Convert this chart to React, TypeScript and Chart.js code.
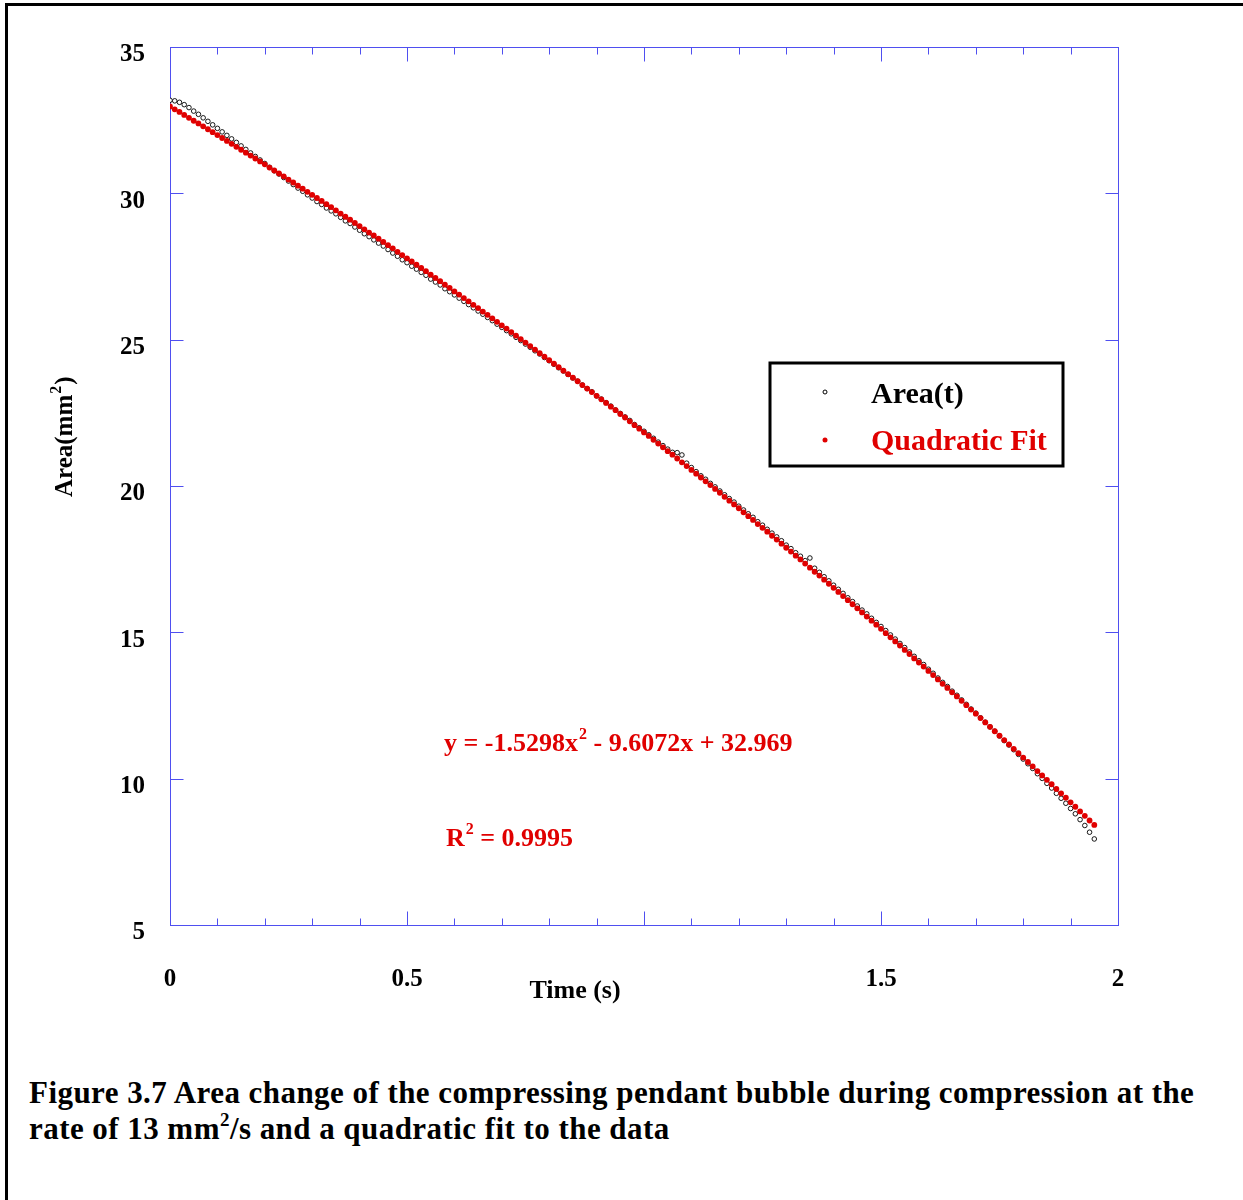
import React, { useEffect, useRef } from "react";
import { Chart, registerables } from "chart.js";

Chart.register(...registerables);

const times = [
  0, 0.01, 0.02, 0.03, 0.04, 0.05, 0.06, 0.07, 0.08, 0.09,
  0.1, 0.11, 0.12, 0.13, 0.14, 0.15, 0.16, 0.17, 0.18, 0.19,
  0.2, 0.21, 0.22, 0.23, 0.24, 0.25, 0.26, 0.27, 0.28, 0.29,
  0.3, 0.31, 0.32, 0.33, 0.34, 0.35, 0.36, 0.37, 0.38, 0.39,
  0.4, 0.41, 0.42, 0.43, 0.44, 0.45, 0.46, 0.47, 0.48, 0.49,
  0.5, 0.51, 0.52, 0.53, 0.54, 0.55, 0.56, 0.57, 0.58, 0.59,
  0.6, 0.61, 0.62, 0.63, 0.64, 0.65, 0.66, 0.67, 0.68, 0.69,
  0.7, 0.71, 0.72, 0.73, 0.74, 0.75, 0.76, 0.77, 0.78, 0.79,
  0.8, 0.81, 0.82, 0.83, 0.84, 0.85, 0.86, 0.87, 0.88, 0.89,
  0.9, 0.91, 0.92, 0.93, 0.94, 0.95, 0.96, 0.97, 0.98, 0.99,
  1.0, 1.01, 1.02, 1.03, 1.04, 1.05, 1.06, 1.07, 1.08, 1.09,
  1.1, 1.11, 1.12, 1.13, 1.14, 1.15, 1.16, 1.17, 1.18, 1.19,
  1.2, 1.21, 1.22, 1.23, 1.24, 1.25, 1.26, 1.27, 1.28, 1.29,
  1.3, 1.31, 1.32, 1.33, 1.34, 1.35, 1.36, 1.37, 1.38, 1.39,
  1.4, 1.41, 1.42, 1.43, 1.44, 1.45, 1.46, 1.47, 1.48, 1.49,
  1.5, 1.51, 1.52, 1.53, 1.54, 1.55, 1.56, 1.57, 1.58, 1.59,
  1.6, 1.61, 1.62, 1.63, 1.64, 1.65, 1.66, 1.67, 1.68, 1.69,
  1.7, 1.71, 1.72, 1.73, 1.74, 1.75, 1.76, 1.77, 1.78, 1.79,
  1.8, 1.81, 1.82, 1.83, 1.84, 1.85, 1.86, 1.87, 1.88, 1.89,
  1.9, 1.91, 1.92, 1.93, 1.94, 1.95,
];

const areaValues = [
  33.18, 33.16, 33.11, 33.03, 32.93, 32.81, 32.7, 32.58, 32.46, 32.34,
  32.22, 32.1, 31.98, 31.86, 31.74, 31.62, 31.5, 31.38, 31.26, 31.14,
  31.02, 30.89, 30.77, 30.66, 30.54, 30.42, 30.3, 30.18, 30.07, 29.95,
  29.84, 29.72, 29.62, 29.5, 29.4, 29.3, 29.18, 29.06, 28.97, 28.85,
  28.74, 28.62, 28.52, 28.41, 28.3, 28.2, 28.08, 27.96, 27.85, 27.73,
  27.63, 27.51, 27.41, 27.3, 27.2, 27.07, 26.97, 26.87, 26.74, 26.64,
  26.53, 26.42, 26.31, 26.2, 26.09, 25.98, 25.87, 25.76, 25.65, 25.53,
  25.42, 25.31, 25.2, 25.08, 24.97, 24.85, 24.74, 24.62, 24.51, 24.39,
  24.28, 24.16, 24.04, 23.93, 23.81, 23.69, 23.58, 23.45, 23.33, 23.22,
  23.08, 22.97, 22.85, 22.73, 22.6, 22.48, 22.36, 22.24, 22.1, 21.99,
  21.87, 21.75, 21.63, 21.5, 21.38, 21.26, 21.15, 21.14, 21.06, 20.78,
  20.63, 20.49, 20.35, 20.23, 20.09, 19.97, 19.83, 19.7, 19.57, 19.45,
  19.31, 19.18, 19.05, 18.93, 18.78, 18.66, 18.52, 18.39, 18.26, 18.13,
  17.98, 17.86, 17.72, 17.6, 17.45, 17.54, 17.19, 17.05, 16.9, 16.76,
  16.61, 16.47, 16.33, 16.18, 16.05, 15.9, 15.76, 15.63, 15.48, 15.34,
  15.2, 15.06, 14.91, 14.77, 14.62, 14.48, 14.33, 14.18, 14.03, 13.9,
  13.74, 13.6, 13.44, 13.29, 13.15, 12.99, 12.85, 12.69, 12.54, 12.38,
  12.24, 12.08, 11.93, 11.77, 11.62, 11.46, 11.3, 11.15, 10.99, 10.83,
  10.67, 10.51, 10.35, 10.17, 10.01, 9.84, 9.68, 9.5, 9.33, 9.16,
  8.98, 8.8, 8.6, 8.4, 8.17, 7.94,
];

const fitValues = [
  32.97, 32.87, 32.78, 32.68, 32.58, 32.48, 32.39, 32.29, 32.19, 32.09,
  31.99, 31.89, 31.79, 31.69, 31.59, 31.49, 31.39, 31.29, 31.19, 31.09,
  30.99, 30.88, 30.78, 30.68, 30.58, 30.47, 30.37, 30.26, 30.16, 30.05,
  29.95, 29.84, 29.74, 29.63, 29.53, 29.42, 29.31, 29.2, 29.1, 28.99,
  28.88, 28.77, 28.66, 28.56, 28.45, 28.34, 28.23, 28.12, 28.0, 27.89,
  27.78, 27.67, 27.56, 27.45, 27.34, 27.22, 27.11, 27.0, 26.88, 26.77,
  26.65, 26.54, 26.42, 26.31, 26.19, 26.08, 25.96, 25.85, 25.73, 25.61,
  25.49, 25.38, 25.26, 25.14, 25.02, 24.9, 24.78, 24.66, 24.54, 24.42,
  24.3, 24.18, 24.06, 23.94, 23.82, 23.7, 23.58, 23.45, 23.33, 23.21,
  23.08, 22.96, 22.84, 22.71, 22.59, 22.46, 22.34, 22.21, 22.08, 21.96,
  21.83, 21.71, 21.58, 21.45, 21.32, 21.19, 21.07, 20.94, 20.81, 20.68,
  20.55, 20.42, 20.29, 20.16, 20.03, 19.9, 19.77, 19.63, 19.5, 19.37,
  19.24, 19.1, 18.97, 18.84, 18.7, 18.57, 18.44, 18.3, 18.17, 18.03,
  17.89, 17.76, 17.62, 17.49, 17.35, 17.21, 17.07, 16.94, 16.8, 16.66,
  16.52, 16.38, 16.24, 16.1, 15.96, 15.82, 15.68, 15.54, 15.4, 15.26,
  15.12, 14.97, 14.83, 14.69, 14.55, 14.4, 14.26, 14.11, 13.97, 13.83,
  13.68, 13.54, 13.39, 13.24, 13.1, 12.95, 12.81, 12.66, 12.51, 12.36,
  12.22, 12.07, 11.92, 11.77, 11.62, 11.47, 11.32, 11.17, 11.02, 10.87,
  10.72, 10.57, 10.42, 10.26, 10.11, 9.96, 9.81, 9.65, 9.5, 9.35,
  9.19, 9.04, 8.88, 8.73, 8.57, 8.42,
];

const xMajorTicks = [0, 0.5, 1, 1.5, 2];
const xMinorTicks = [0.1, 0.2, 0.3, 0.4, 0.6, 0.7, 0.8, 0.9, 1.1, 1.2, 1.3, 1.4, 1.6, 1.7, 1.8, 1.9];
const xTickLabels = ["0", "0.5", "", "1.5", "2"];
const yTicks = [5, 10, 15, 20, 25, 30, 35];

const seriesNames = ["Area(t)", "Quadratic Fit"];
const equationText = ["y = -1.5298x", "2", " - 9.6072x + 32.969"];
const r2Text = ["R", "2", " = 0.9995"];

const SERIF = '"Liberation Serif", "Times New Roman", serif';
const AXIS_BLUE = "#4f4ff0";
const RED = "#e00000";

const decorPlugin = {
  id: "decor",
  beforeDatasetsDraw(chart: any) {
    const { ctx, chartArea } = chart;
    const xs = chart.scales.x;
    const ys = chart.scales.y;
    const L = Math.round(chartArea.left) + 0.5;
    const R = Math.round(chartArea.right) + 0.5;
    const T = Math.round(chartArea.top) + 0.5;
    const B = Math.round(chartArea.bottom) + 0.5;
    ctx.save();
    ctx.strokeStyle = AXIS_BLUE;
    ctx.lineWidth = 1;
    ctx.strokeRect(L, T, R - L, B - T);
    ctx.beginPath();
    xMajorTicks.forEach((v) => {
      const px = Math.round(xs.getPixelForValue(v)) + 0.5;
      ctx.moveTo(px, B);
      ctx.lineTo(px, B - 14);
      ctx.moveTo(px, T);
      ctx.lineTo(px, T + 14);
    });
    xMinorTicks.forEach((v) => {
      const px = Math.round(xs.getPixelForValue(v)) + 0.5;
      ctx.moveTo(px, B);
      ctx.lineTo(px, B - 7);
      ctx.moveTo(px, T);
      ctx.lineTo(px, T + 7);
    });
    yTicks.forEach((v) => {
      const py = Math.round(ys.getPixelForValue(v)) + 0.5;
      ctx.moveTo(L, py);
      ctx.lineTo(L + 13, py);
      ctx.moveTo(R, py);
      ctx.lineTo(R - 13, py);
    });
    ctx.stroke();
    ctx.restore();
  },
  afterDraw(chart: any) {
    const { ctx } = chart;
    ctx.save();
    ctx.textBaseline = "alphabetic";
    ctx.textAlign = "left";

    // y axis title (rotated)
    ctx.save();
    ctx.translate(72, 497);
    ctx.rotate(-Math.PI / 2);
    ctx.fillStyle = "#000";
    ctx.font = `bold 25px ${SERIF}`;
    ctx.fillText("Area(mm", 0, 0);
    const w = ctx.measureText("Area(mm").width;
    ctx.font = `bold 16px ${SERIF}`;
    ctx.fillText("2", w + 1, -11);
    const w2 = ctx.measureText("2").width;
    ctx.font = `bold 25px ${SERIF}`;
    ctx.fillText(")", w + w2 + 2, 0);
    ctx.restore();

    // x axis title
    ctx.fillStyle = "#000";
    ctx.font = `bold 26px ${SERIF}`;
    ctx.textAlign = "center";
    ctx.fillText("Time (s)", 575, 998);
    ctx.textAlign = "left";

    // equation
    const drawSup = (parts: string[], x: number, y: number) => {
      ctx.fillStyle = RED;
      ctx.font = `bold 26px ${SERIF}`;
      ctx.fillText(parts[0], x, y);
      let cx = x + ctx.measureText(parts[0]).width;
      ctx.font = `bold 16px ${SERIF}`;
      ctx.fillText(parts[1], cx + 1, y - 12);
      cx += ctx.measureText(parts[1]).width + 1;
      ctx.font = `bold 26px ${SERIF}`;
      ctx.fillText(parts[2], cx, y);
    };
    drawSup(equationText, 444, 751);
    drawSup(r2Text, 446, 846);

    // legend box
    ctx.strokeStyle = "#000";
    ctx.lineWidth = 3;
    ctx.strokeRect(770, 363, 293, 103);
    ctx.beginPath();
    ctx.arc(825, 392, 2, 0, Math.PI * 2);
    ctx.fillStyle = "#fff";
    ctx.fill();
    ctx.lineWidth = 1;
    ctx.strokeStyle = "#000";
    ctx.stroke();
    ctx.beginPath();
    ctx.arc(825, 440, 2.5, 0, Math.PI * 2);
    ctx.fillStyle = RED;
    ctx.fill();
    ctx.font = `bold 30px ${SERIF}`;
    ctx.fillStyle = "#000";
    ctx.fillText(seriesNames[0], 871, 403);
    ctx.fillStyle = RED;
    ctx.fillText(seriesNames[1], 871, 450);
    ctx.restore();
  },
};

export default function App() {
  const ref = useRef<HTMLCanvasElement | null>(null);

  useEffect(() => {
    if (!ref.current) return;
    const areaPts = times.map((t, i) => ({ x: t, y: areaValues[i] }));
    const fitPts = times.map((t, i) => ({ x: t, y: fitValues[i] }));
    const chart = new Chart(ref.current, {
      type: "scatter",
      data: {
        datasets: [
          {
            label: seriesNames[1],
            data: fitPts,
            order: 0,
            pointRadius: 2.9,
            pointBorderWidth: 0,
            pointBackgroundColor: RED,
            pointBorderColor: RED,
            showLine: false,
          },
          {
            label: seriesNames[0],
            data: areaPts,
            order: 1,
            pointRadius: 2.3,
            pointBorderWidth: 0.9,
            pointBackgroundColor: "#ffffff",
            pointBorderColor: "#000000",
            showLine: false,
          },
        ],
      },
      options: {
        responsive: false,
        animation: false,
        devicePixelRatio: 1,
        layout: { padding: { left: 0, top: 47, right: 125, bottom: 0 } },
        plugins: {
          legend: { display: false },
          tooltip: { enabled: false },
          title: { display: false },
        },
        scales: {
          x: {
            type: "linear",
            min: 0,
            max: 2,
            afterBuildTicks: (scale: any) => {
              scale.ticks = xMajorTicks.map((v) => ({ value: v }));
            },
            afterFit: (scale: any) => {
              scale.height = 135;
            },
            grid: { display: false },
            border: { display: false },
            ticks: {
              autoSkip: false,
              maxRotation: 0,
              padding: 32,
              color: "#000",
              font: { family: SERIF, size: 25, weight: "bold" },
              callback: (v: any) => {
                const i = xMajorTicks.findIndex((m) => Math.abs(m - Number(v)) < 1e-6);
                return i >= 0 ? xTickLabels[i] : "";
              },
            },
          },
          y: {
            type: "linear",
            min: 5,
            max: 35,
            afterBuildTicks: (scale: any) => {
              scale.ticks = yTicks.map((v) => ({ value: v }));
            },
            afterFit: (scale: any) => {
              scale.width = 170;
            },
            grid: { display: false },
            border: { display: false },
            ticks: {
              autoSkip: false,
              padding: 17,
              labelOffset: 8,
              color: "#000",
              font: { family: SERIF, size: 25, weight: "bold" },
              callback: (v: any) => String(v),
            },
          },
        },
      },
      plugins: [decorPlugin],
    });
    return () => chart.destroy();
  }, []);

  return (
    <div
      style={{
        position: "fixed",
        left: 0,
        top: 0,
        width: 1243,
        height: 1200,
        overflow: "hidden",
        background: "#fff",
      }}
    >
      <div
        style={{
          position: "absolute",
          left: 5,
          top: 3,
          width: 1400,
          height: 1400,
          border: "3px solid #000",
          boxSizing: "border-box",
        }}
      />
      <canvas
        ref={ref}
        width={1243}
        height={1060}
        style={{ position: "absolute", left: 0, top: 0, width: 1243, height: 1060 }}
      />
      <div
        style={{
          position: "absolute",
          left: 29,
          top: 1075,
          width: 1210,
          fontFamily: SERIF,
          fontWeight: "bold",
          fontSize: 31,
          letterSpacing: "0.45px",
          lineHeight: "36px",
          color: "#000",
          whiteSpace: "nowrap",
        }}
      >
        <div>Figure 3.7 Area change of the compressing pendant bubble during compression at the</div>
        <div>
          rate of 13 mm
          <span style={{ fontSize: 19, position: "relative", top: -13 }}>2</span>
          /s and a quadratic fit to the data
        </div>
      </div>
    </div>
  );
}
